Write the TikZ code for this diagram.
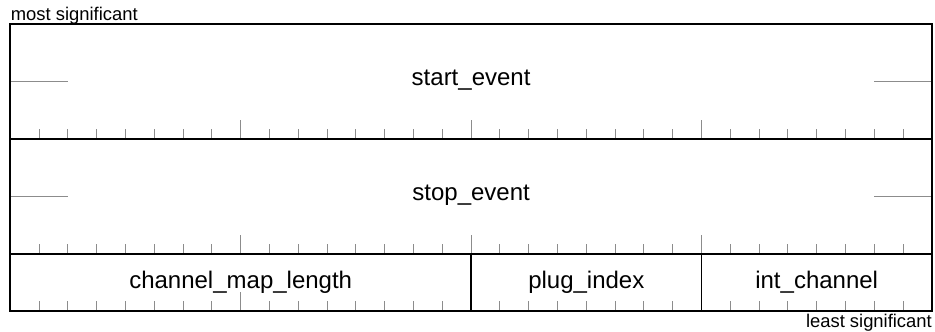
\documentclass[tikz,border=0pt]{standalone}
\usepackage{fontspec}
\setmainfont{Liberation Sans}
\begin{document}
\begin{tikzpicture}[x=1pt,y=-1pt,
  frame/.style={line width=1.8pt,black},
  tick/.style={line width=1pt,color=gray!90},
  contline/.style={line width=1pt,color=gray!90},
  fieldlabel/.style={font=\fontsize{24}{28}\selectfont,anchor=base,inner sep=0pt},
  endlabel/.style={font=\fontsize{18.4}{22}\selectfont,inner sep=0pt}]
\useasboundingbox (0,0) rectangle (935,332);
% geometry: 32 bits per word, one bit = 28.8 units
\def\xl{10.3}
\def\bw{28.8}
\pgfmathsetmacro{\xr}{\xl+32*\bw}
% bit ticks along the bottom of each word row
\foreach \yb/\skip in {139/{}, 254/{}, 311/{16,24}} {
  \foreach \i in {1,...,31} {
    \def\doit{1}
    \foreach \s in \skip {\ifnum\s=\i\gdef\doit{0}\fi}
    \ifnum\doit=1
      \pgfmathsetmacro{\tl}{mod(\i,8)==0 ? 19.5 : 9.7}
      \draw[tick] ({\xl+\i*\bw},\yb) -- ++(0,-\tl);
    \fi
    \gdef\doit{1}
  }
}
% continuation marks for the two 64-bit fields
\foreach \ym in {81.5,196.5} {
  \draw[contline] (\xl,\ym) -- ++({2*\bw},0);
  \draw[contline] (\xr,\ym) -- ++({-2*\bw},0);
}
% field frame
\draw[frame] (\xl,24) rectangle (\xr,311);
\draw[frame] (\xl,139) -- (\xr,139);
\draw[frame] (\xl,254) -- (\xr,254);
\draw[frame] ({\xl+16*\bw},254) -- ({\xl+16*\bw},311);
\draw[frame] ({\xl+24*\bw},254) -- ({\xl+24*\bw},311);
% field names
\node[fieldlabel] (start) at ({\xl+16*\bw},85.3) {start\_event};
\node[fieldlabel] (stop) at ({\xl+16*\bw},200.3) {stop\_event};
\node[fieldlabel] (cml) at ({\xl+8*\bw},288.3) {channel\_map\_length};
\node[fieldlabel] (plug) at ({\xl+20*\bw},288.3) {plug\_index};
\node[fieldlabel] (intch) at ({\xl+28*\bw},288.3) {int\_channel};
% bit order labels
\node[endlabel,anchor=base west] (msb) at (10.7,20.5) {most significant};
\node[endlabel,anchor=base east] (lsb) at (932,327.3) {least significant};
\end{tikzpicture}
\end{document}
